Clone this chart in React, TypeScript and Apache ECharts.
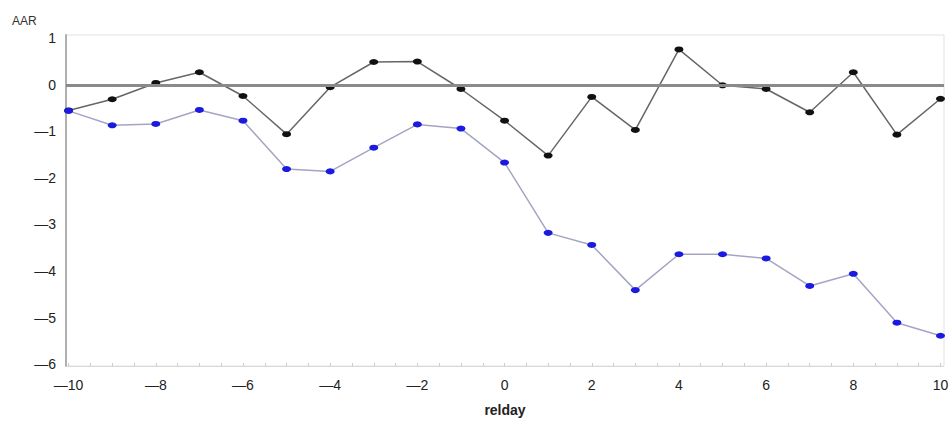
import React, { useEffect, useRef } from "react";
import * as echarts from "echarts";

const relday = [-10, -9, -8, -7, -6, -5, -4, -3, -2, -1, 0, 1, 2, 3, 4, 5, 6, 7, 8, 9, 10];
const blackSeries = [-0.55, -0.31, 0.04, 0.27, -0.24, -1.06, -0.05, 0.49, 0.5, -0.09, -0.77, -1.52, -0.26, -0.97, 0.76, -0.01, -0.09, -0.59, 0.27, -1.07, -0.3];
const blueSeries = [-0.56, -0.87, -0.84, -0.54, -0.77, -1.81, -1.86, -1.35, -0.85, -0.94, -1.67, -3.18, -3.44, -4.41, -3.64, -3.64, -3.73, -4.32, -4.06, -5.11, -5.39];
const xTickLabels = [-10, -8, -6, -4, -2, 0, 2, 4, 6, 8, 10];
const yTickLabels = [-6, -5, -4, -3, -2, -1, 0, 1];

const minorX: number[] = [];
for (let v = -10; v <= 10.001; v += 0.5) minorX.push(Math.round(v * 10) / 10);

const fmt = (v: number) => (v < 0 ? "\u2014" + Math.abs(v) : String(v));

export default function App() {
  const ref = useRef<HTMLDivElement>(null);
  useEffect(() => {
    if (!ref.current) return;
    const chart = echarts.init(ref.current, null, { renderer: "svg" });
    const font = "'Liberation Sans', Arial, sans-serif";
    chart.setOption({
      animation: false,
      backgroundColor: "#ffffff",
      grid: {
        left: 66,
        right: 6,
        top: 35,
        bottom: 56,
        outerBoundsMode: "none",
        containLabel: false,
        show: true,
        borderColor: "#e2e2e2",
        borderWidth: 1,
      },
      graphic: [
        {
          type: "text",
          left: 12,
          top: 15,
          style: { text: "AAR", fontSize: 12, fontFamily: font, fill: "#333" },
        },
      ],
      xAxis: {
        type: "value",
        min: -10.06,
        max: 10.08,
        name: "relday",
        nameLocation: "middle",
        nameGap: 37,
        nameTextStyle: { fontSize: 14, fontFamily: font, color: "#222", fontWeight: "bold" },
        splitLine: { show: false },
        axisLine: { show: true, onZero: false, lineStyle: { color: "#d4d4d4", width: 1, type: "dotted" } },
        axisTick: { show: true, customValues: minorX, length: 3, inside: true, lineStyle: { color: "#cccccc" } },
        axisLabel: {
          customValues: xTickLabels,
          formatter: (v: number) => fmt(v),
          fontSize: 14,
          fontFamily: font,
          color: "#222",
          margin: 12,
        },
      },
      yAxis: {
        type: "value",
        min: -6.04,
        max: 1.07,
        splitLine: { show: false },
        axisLine: { show: true, onZero: false, lineStyle: { color: "#b0b0b0", width: 2 } },
        axisTick: { show: false },
        axisLabel: {
          customValues: yTickLabels,
          formatter: (v: number) => fmt(v),
          fontSize: 14,
          fontFamily: font,
          color: "#222",
          margin: 10,
        },
      },
      series: [
        {
          type: "line",
          data: relday.map((x, i) => [x, blackSeries[i]]),
          symbol: "circle",
          symbolSize: [9, 6],
          itemStyle: { color: "#111" },
          lineStyle: { color: "#666", width: 1.5 },
          z: 3,
          markLine: {
            silent: true,
            symbol: "none",
            label: { show: false },
            lineStyle: { color: "#8a8a8a", width: 3, type: "solid" },
            data: [{ yAxis: 0 }],
          },
        },
        {
          type: "line",
          data: relday.map((x, i) => [x, blueSeries[i]]),
          symbol: "circle",
          symbolSize: [9, 6],
          itemStyle: { color: "#1a1ae0" },
          lineStyle: { color: "#a4a4c4", width: 1.5 },
          z: 4,
        },
      ],
    });
    return () => chart.dispose();
  }, []);
  return <div ref={ref} style={{ position: "fixed", left: 0, top: 0, width: 950, height: 422 }} />;
}
